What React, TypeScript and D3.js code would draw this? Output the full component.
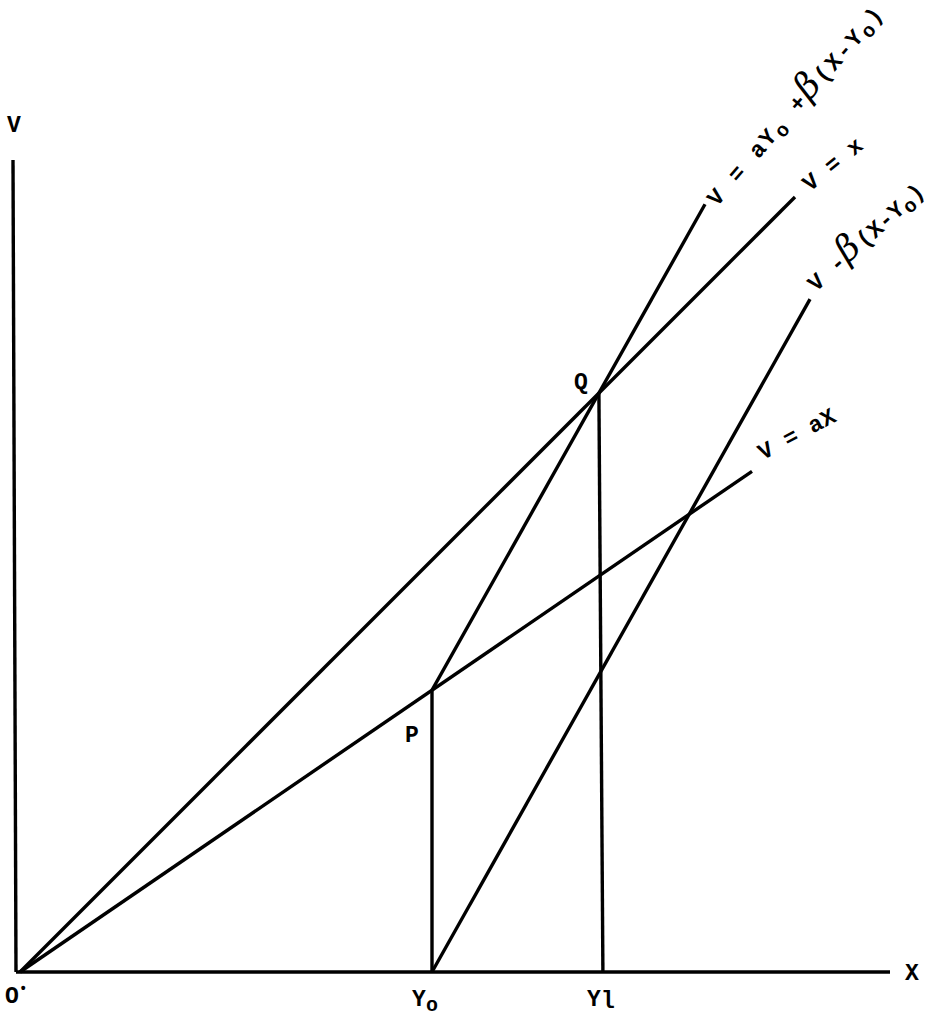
import React from "react"
import * as d3 from "d3"

// parameters of the diagram (data units)
const a = 0.684
const beta = 1.78
const Y0 = 4.12
const Y1 = (Y0 * (beta - a)) / (beta - 1)

const lineNames = ["aX", "X", "upper", "lower"]
const lineStartX = [0, 0, Y0, Y0]
const lineEndX = [7.32, 7.75, 6.85, 7.9]
const lineFns: ((x: number) => number)[] = [
    (x) => a * x,
    (x) => x,
    (x) => a * Y0 + beta * (x - Y0),
    (x) => beta * (x - Y0),
]

const xMax = 8.7
const vMax = 8.12

const W = 945, H = 1021

export default function App() {
    const x = d3.scaleLinear().domain([0, xMax]).range([20, 890])
    const y = d3.scaleLinear().domain([0, vMax]).range([972, 160])
    const line = d3.line<[number, number]>().x(d => x(d[0])).y(d => y(d[1]))

    const font = "'Liberation Mono', 'DejaVu Sans Mono', monospace"
    const txt = { fontFamily: font, fontWeight: 700, fontSize: 23, letterSpacing: 0.3, fill: "#000" } as any
    const betaStyle = { fontFamily: "'DejaVu Serif', serif", fontStyle: "italic", fontSize: 36, fontWeight: 400, letterSpacing: 2 } as any
    const sub = (s: string) => <tspan dy={5} fontSize={20}>{s}</tspan>

    const ends = lineNames.map((n, i) => [x(lineEndX[i]), y(lineFns[i](lineEndX[i]))])

    return (
        <svg width={W} height={H} style={{ position: "absolute", left: 0, top: 0, background: "#fff" }}>
            {/* axes */}
            <path d={line([[-0.04, 0], [xMax, 0]])!} stroke="#000" strokeWidth={3.4} fill="none" />
            <path d={line([[-0.04, 0], [-0.07, vMax]])!} stroke="#000" strokeWidth={3.4} fill="none" />

            {lineNames.map((n, i) => (
                <path key={n}
                    d={line([[lineStartX[i], lineFns[i](lineStartX[i])], [lineEndX[i], lineFns[i](lineEndX[i])]])!}
                    stroke="#000" strokeWidth={3.4} fill="none" />
            ))}

            {/* verticals at Y0 and Y1 */}
            <path d={line([[Y0, 0], [Y0, a * Y0]])!} stroke="#000" strokeWidth={3.4} fill="none" />
            <path d={line([[Y1 + 0.04, 0], [Y1, Y1]])!} stroke="#000" strokeWidth={3.4} fill="none" />

            {/* axis labels */}
            <text x={x(-0.06)} y={y(vMax) - 28} style={txt} textAnchor="middle">V</text>
            <text x={x(xMax) + 15} y={y(0) + 8} style={txt}>X</text>
            <text x={x(0) - 15} y={y(0) + 31} style={txt}>O<tspan dy={-10} fontSize={14}>•</tspan></text>
            <text x={x(Y0) - 20} y={y(0) + 34} style={txt}>Y{sub("o")}</text>
            <text x={x(Y1) - 12} y={y(0) + 34} style={txt}>Y<tspan dy={2}>l</tspan></text>
            <text x={x(Y0) - 27} y={y(a * Y0) + 52} style={txt}>P</text>
            <text x={x(Y1) - 25} y={y(Y1) - 4} style={txt}>Q</text>

            {/* line labels */}
            <text transform={`translate(${ends[0][0] + 11},${ends[0][1] - 11}) rotate(-28)`} style={txt}>V = aX</text>
            <text transform={`translate(${ends[1][0] + 15},${ends[1][1] - 5}) rotate(-39)`} style={txt}>V = x</text>
            <text transform={`translate(${ends[2][0] + 12},${ends[2][1] + 3}) rotate(-49)`} style={{ ...txt, letterSpacing: 2 }}>
                V = aY{sub("o")}<tspan dy={-5}> +</tspan><tspan style={betaStyle}>β</tspan>(X-Y{sub("o")}<tspan dy={-5}>)</tspan>
            </text>
            <text transform={`translate(${ends[3][0] + 6},${ends[3][1] - 7}) rotate(-42)`} style={txt}>
                V -<tspan style={betaStyle}>β</tspan>(X-Y{sub("o")}<tspan dy={-5}>)</tspan>
            </text>
        </svg>
    )
}
